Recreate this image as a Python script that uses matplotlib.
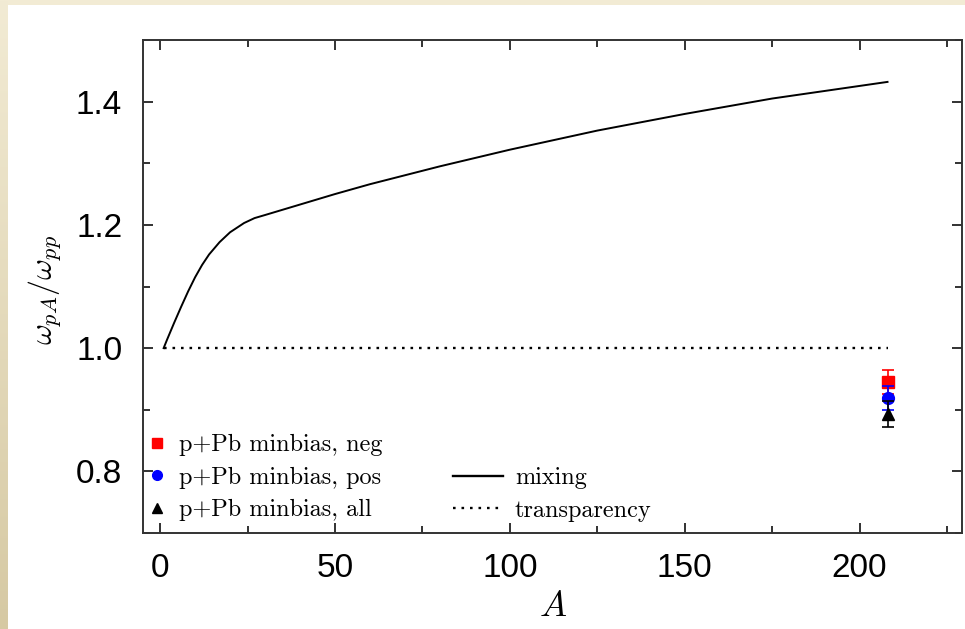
import numpy as np
import matplotlib
matplotlib.use("Agg")
import matplotlib.pyplot as plt
from matplotlib.lines import Line2D

plt.rcParams['mathtext.fontset'] = 'cm'
plt.rcParams['axes.unicode_minus'] = False

# ---- data ----
A_mix = [1, 2, 4, 6, 8, 10, 12, 14, 17, 20, 24, 27, 30, 40, 50, 60, 80, 100, 125, 150, 175, 208]
w_mix = [1.0, 1.014, 1.041, 1.067, 1.092, 1.115, 1.135, 1.152, 1.172, 1.188, 1.203, 1.211,
         1.216, 1.233, 1.25, 1.266, 1.295, 1.322, 1.353, 1.38, 1.405, 1.432]
A_transp = [1, 208]
w_transp = [1.0, 1.0]

A_data = [208]
neg_val = [0.945]
neg_err = [0.02]
pos_val = [0.919]
pos_err = [0.02]
all_val = [0.893]
all_err = [0.021]

xticks = [0, 50, 100, 150, 200]
yticks = [0.8, 1.0, 1.2, 1.4]

W, H = 965, 629
fig = plt.figure(figsize=(W / 100, H / 100), dpi=100)
fig.patch.set_facecolor('white')

# beige border strips
top = fig.add_axes([0, 1 - 5 / H, 1, 5 / H])
top.set_axis_off()
top.add_patch(plt.Rectangle((0, 0), 1, 1, color='#F2EBD4', transform=top.transAxes))
left = fig.add_axes([0, 0, 8 / W, 1])
left.set_axis_off()
grad = np.linspace(0, 1, 256).reshape(-1, 1)
c0 = np.array([0xF2, 0xEB, 0xD4]) / 255
c1 = np.array([0xD6, 0xC9, 0xA3]) / 255
img = c0[None, None, :] * (1 - grad[..., None]) + c1[None, None, :] * grad[..., None]
left.imshow(img, aspect='auto', extent=[0, 1, 0, 1], origin='upper')
left.set_xlim(0, 1); left.set_ylim(0, 1)

ax = fig.add_axes([143 / W, 1 - 533 / H, (962 - 143) / W, (533 - 40) / H])

ax.plot(A_mix, w_mix, color='black', lw=1.4, label='mixing', zorder=3)
ax.plot(A_transp, w_transp, color='black', lw=1.7, linestyle=(0, (1.1, 2.5)),
        label='transparency', zorder=3)

h_neg = ax.errorbar(A_data, neg_val, yerr=neg_err, fmt='s', color='#FF0000', ms=8,
                    capsize=4.5, elinewidth=1.2, capthick=1.2, zorder=4)
h_pos = ax.errorbar(A_data, pos_val, yerr=pos_err, fmt='o', color='#0000FF', ms=8.5,
                    capsize=4.5, elinewidth=1.2, capthick=1.2, zorder=5)
h_all = ax.errorbar(A_data, all_val, yerr=all_err, fmt='^', color='black', ms=8,
                    capsize=4.5, elinewidth=1.2, capthick=1.2, zorder=6)

ax.set_xlim(-4.9, 229.3)
ax.set_ylim(0.7, 1.5)
ax.set_xticks(xticks)
ax.set_xticks([25, 75, 125, 175, 225], minor=True)
ax.set_yticks(yticks)
ax.set_yticks([0.7, 0.9, 1.1, 1.3, 1.5], minor=True)
ax.set_xticklabels([str(v) for v in xticks])
ax.set_yticklabels([f'{v:.1f}' for v in yticks])

for lab in ax.get_xticklabels() + ax.get_yticklabels():
    lab.set_family('Liberation Sans')
    lab.set_fontsize(24)

ax.tick_params(which='both', direction='in', top=True, right=True, width=1.3, color='#222222')
ax.tick_params(which='major', length=7.5)
ax.tick_params(which='minor', length=5)
ax.tick_params(axis='x', which='major', pad=14.5)
ax.tick_params(axis='y', which='major', pad=15)
for s in ax.spines.values():
    s.set_linewidth(1.4)
    s.set_color('#333333')

fig.text(45 / W, 1 - 290 / H, r'$\omega_{pA}/\omega_{pp}$', rotation=90,
         ha='center', va='center', fontsize=23)
fig.text(553 / W, 1 - 606 / H, r'$A$', ha='center', va='center', fontsize=26)

# legends
leg1_handles = [
    Line2D([], [], marker='s', color='#FF0000', ls='none', ms=6.5),
    Line2D([], [], marker='o', color='#0000FF', ls='none', ms=7),
    Line2D([], [], marker='^', color='black', ls='none', ms=6.5),
]
leg1 = ax.legend(leg1_handles,
                 ['p+Pb minbias, neg', 'p+Pb minbias, pos', 'p+Pb minbias, all'],
                 loc='center left', bbox_to_anchor=(0.008, 0.112), frameon=False,
                 prop={'family': 'cmr10', 'size': 17.5}, handlelength=0.6,
                 handletextpad=0.62, labelspacing=0.43, borderpad=0, borderaxespad=0)
ax.add_artist(leg1)
leg2_handles = [
    Line2D([], [], color='black', lw=1.7),
    Line2D([], [], color='black', lw=1.7, linestyle=(0, (1.1, 2.5))),
]
ax.legend(leg2_handles, ['mixing', 'transparency'],
          loc='center left', bbox_to_anchor=(0.378, 0.078), frameon=False,
          prop={'family': 'cmr10', 'size': 17.5}, handlelength=2.06,
          handletextpad=0.5, labelspacing=0.43, borderpad=0, borderaxespad=0)

fig.savefig('out.png', dpi=100)
